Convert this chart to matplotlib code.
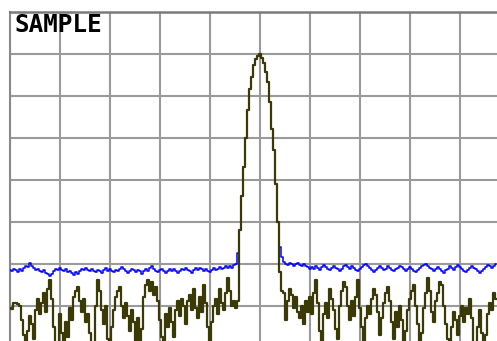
import numpy as np
import matplotlib
matplotlib.use("Agg")
import matplotlib.pyplot as plt

title = "SAMPLE"
ref_level = 0.0      # dB at top of screen
db_per_div = 10.0
n_div_y = 8
n_div_x = 10
n_points = 250       # trace points across the full screen width

# shared signal peak (both traces), dB
peak = [-52.0, -44.0, -37.0, -30.0, -23.5, -18.5, -15.5, -12.7, -11.3, -10.5,
        -10.0, -11.0, -12.3, -14.5, -16.8, -21.5, -28.0, -33.0, -41.0, -50.0]

# blue (max-hold) trace, noise left of the peak
blue_left = [
    -61.5,-61.9,-61.2,-61.6,-62.0,-61.4,-61.8,-61.0,-60.6,-60.9,
    -59.8,-60.5,-61.1,-61.6,-61.3,-61.8,-62.0,-61.5,-62.2,-62.6,
    -63.0,-62.4,-61.7,-61.3,-61.6,-61.1,-61.5,-61.9,-61.4,-62.0,
    -61.7,-62.3,-62.7,-62.1,-62.6,-61.8,-61.2,-61.6,-61.0,-61.5,
    -61.9,-61.3,-61.7,-62.1,-61.5,-61.8,-62.2,-61.6,-61.1,-61.7,
    -61.2,-61.8,-62.1,-61.5,-61.9,-61.3,-60.9,-61.4,-61.8,-62.3,
    -61.7,-61.2,-61.6,-62.0,-61.5,-61.9,-62.4,-61.8,-61.3,-61.7,
    -61.1,-60.6,-61.2,-61.7,-62.1,-61.6,-61.2,-61.8,-62.2,-61.7,
    -61.3,-61.8,-61.4,-61.9,-62.3,-61.7,-61.2,-61.6,-61.1,-61.5,
    -61.9,-62.2,-61.6,-61.1,-61.5,-61.0,-61.4,-61.8,-61.3,-61.7,
    -62.0,-61.5,-61.1,-61.6,-61.2,-60.8,-61.3,-61.0,-60.6,-61.1,
    -60.7,-61.0,-60.4,
]
blue_rise = [-60.0, -57.5]
blue_fall = [-56.0, -58.5, -59.6]
blue_right = [
    -60.0,-60.4,-59.9,-60.2,-60.6,-60.1,-59.8,-60.3,-60.7,-60.2,
    -60.5,-60.9,-61.3,-60.8,-61.2,-60.7,-61.1,-61.5,-60.9,-60.4,
    -60.8,-61.2,-61.6,-61.1,-60.6,-61.0,-61.4,-61.8,-61.3,-60.7,
    -60.3,-60.8,-61.2,-60.6,-61.0,-61.5,-61.9,-61.4,-60.8,-60.4,
    -60.1,-60.7,-61.1,-61.6,-62.0,-61.5,-61.0,-60.6,-61.1,-61.6,
    -61.2,-60.7,-61.1,-61.5,-61.9,-61.4,-61.0,-60.5,-60.9,-61.4,
    -61.8,-61.3,-60.8,-61.2,-61.7,-62.1,-61.6,-61.1,-60.6,-60.3,
    -60.0,-60.5,-61.0,-61.4,-61.8,-61.3,-60.9,-61.4,-61.8,-62.2,
    -61.6,-61.2,-60.7,-61.1,-61.5,-60.9,-60.4,-60.8,-61.3,-61.7,
    -62.0,-61.5,-61.1,-60.6,-61.0,-61.4,-61.9,-62.3,-61.8,-61.3,
    -60.8,-60.4,-60.7,-61.1,-60.5,-60.2,
]

# dark olive (sample detector) trace, noise left of the peak
olive_left = [
    -70.5,-70.8,-69.5,-69.3,-69.6,-70.2,-73.5,-77.0,-81.0,-76.0,
    -72.5,-74.5,-78.0,-71.0,-68.5,-72.0,-69.5,-67.0,-71.5,-66.0,
    -64.0,-68.5,-75.0,-80.5,-79.0,-72.0,-76.5,-81.0,-74.0,-77.5,
    -70.5,-73.5,-68.0,-66.5,-65.5,-69.0,-71.5,-68.5,-74.0,-72.0,
    -76.5,-79.5,-82.0,-70.0,-64.0,-66.5,-71.0,-74.5,-70.0,-78.0,
    -82.0,-75.0,-71.0,-68.0,-66.5,-65.5,-70.0,-73.0,-69.5,-72.5,
    -76.0,-71.0,-74.0,-78.5,-73.0,-81.0,-75.5,-68.0,-65.0,-64.0,
    -66.5,-64.5,-67.5,-65.5,-69.0,-73.5,-77.5,-81.0,-72.0,-75.0,
    -70.5,-74.0,-77.5,-71.0,-69.0,-72.5,-68.5,-70.0,-74.5,-69.0,
    -67.5,-71.0,-66.0,-70.5,-73.0,-68.0,-71.5,-65.0,-69.5,-75.0,
    -82.0,-74.0,-70.0,-68.5,-72.0,-66.0,-69.5,-71.0,-67.0,-63.5,
    -66.5,-70.0,-69.0,-70.5,
]
olive_rise = [-69.0]
olive_fall = [-62.0, -66.5]
olive_right = [
    -67.0,-73.5,-69.0,-66.0,-67.5,-70.5,-68.0,-71.5,-73.0,-70.0,
    -74.5,-69.0,-71.5,-68.0,-72.0,-67.0,-64.0,-69.5,-76.0,-78.5,
    -72.0,-69.5,-73.0,-66.0,-68.5,-71.0,-75.5,-78.0,-70.0,-66.5,
    -64.5,-65.5,-70.0,-73.5,-69.0,-72.5,-68.0,-64.0,-70.5,-75.0,
    -79.5,-73.0,-70.0,-72.0,-68.5,-66.0,-67.5,-71.5,-77.0,-73.0,
    -69.5,-67.0,-65.5,-69.0,-74.0,-78.0,-71.5,-75.0,-70.0,-73.5,
    -80.0,-76.0,-71.0,-68.5,-66.5,-65.0,-70.0,-74.5,-81.0,-76.5,
    -70.5,-67.0,-63.5,-66.5,-71.5,-74.0,-69.0,-67.0,-64.5,-65.0,
    -70.0,-74.5,-78.0,-81.0,-75.0,-71.5,-73.5,-77.0,-72.5,-70.0,
    -74.0,-70.5,-72.0,-68.5,-73.0,-79.0,-81.5,-75.0,-71.0,-76.5,
    -82.0,-77.0,-72.0,-69.5,-71.0,-67.0,-68.5,
]

trace_max = np.array(blue_left + blue_rise + peak + blue_fall + blue_right)
trace_sample = np.array(olive_left + olive_rise + peak + olive_fall + olive_right)

W, H = 497, 341
fig = plt.figure(figsize=(W / 100, H / 100), dpi=100)
fig.patch.set_facecolor("white")

# screen: left edge at x=10px, top at y=11.5px, 50 px/div across, 42 px/div down
ax = fig.add_axes([10 / W, 1 - (11.5 + 336) / H, 500 / W, 336 / H])
ax.set_facecolor("white")

ax.plot(np.arange(len(trace_max)), trace_max, drawstyle="steps-mid",
        color="#0000ff", lw=1.1, zorder=3)
ax.plot(np.arange(len(trace_sample)), trace_sample, drawstyle="steps-mid",
        color="#3b3a06", lw=1.6, zorder=4)

ax.set_xlim(0, n_points)
ax.set_ylim(ref_level - n_div_y * db_per_div, ref_level)
ax.set_xticks(np.linspace(0, n_points, n_div_x + 1))
ax.set_yticks(np.linspace(ref_level - n_div_y * db_per_div, ref_level, n_div_y + 1))
ax.grid(True, color="#9a9a9a", lw=1.5, zorder=1)
ax.tick_params(left=False, bottom=False, labelleft=False, labelbottom=False)
for s in ["right", "bottom"]:
    ax.spines[s].set_visible(False)
ax.spines["top"].set_color("#7a7a7a")
ax.spines["top"].set_linewidth(1.8)
ax.spines["left"].set_color("#8a8a8a")
ax.spines["left"].set_linewidth(1.5)

fig.text(15 / W, 1 - 13.5 / H, title, family="DejaVu Sans Mono", weight="bold",
         fontsize=17.5, color="black", ha="left", va="top")

fig.savefig("out.png", dpi=100, facecolor="white")
